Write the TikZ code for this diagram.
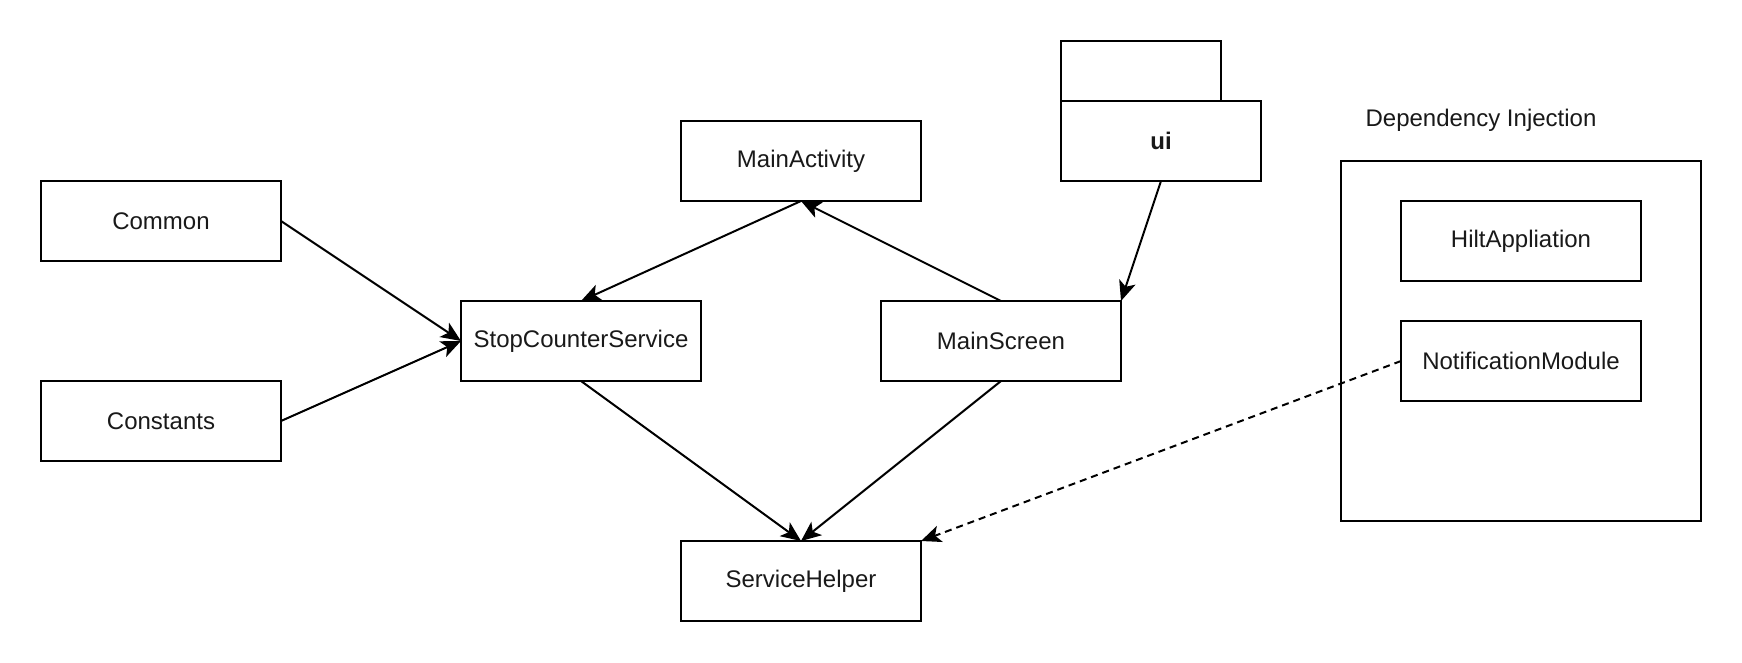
\documentclass[tikz,border=0pt]{standalone}
\usepackage{fontspec}
\setmainfont{Liberation Sans}
\usetikzlibrary{arrows.meta}
\begin{document}
\begin{tikzpicture}[x=1pt,y=-1pt,
  box/.style={draw=black, line width=2pt, fill=white, rectangle, minimum width=240pt, minimum height=80pt, inner sep=0pt, outer sep=0pt, font=\fontsize{24}{28}\selectfont, text=black!90},
  arr/.style={draw=black, line width=2pt, -{Stealth[length=20pt 0, width=17pt 0, inset=5pt 0]}},
  dsh/.style={dash pattern=on 7pt off 5pt}]
\useasboundingbox[fill=white] (0,0) rectangle (1742,662);
% package ui
\draw[line width=2pt] (1061,41) rectangle (1221,101);
\node[box, minimum width=200pt, font=\fontsize{24}{28}\selectfont\bfseries] (ui) at (1161,141) {ui};
% container
\node[draw=black, line width=2pt, minimum width=360pt, minimum height=360pt, outer sep=0pt, inner sep=0pt] (di) at (1521,341) {};
\node[font=\fontsize{24}{28}\selectfont, text=black!90] (dilabel) at (1481,120) {Dependency Injection};
\node[box] (common) at (161,221) {Common};
\node[box] (constants) at (161,421) {Constants};
\node[box] (scs) at (581,341) {StopCounterService};
\node[box] (mainactivity) at (801,161) {MainActivity};
\node[box] (mainscreen) at (1001,341) {MainScreen};
\node[box] (servicehelper) at (801,581) {ServiceHelper};
\node[box] (hilt) at (1521,241) {HiltAppliation};
\node[box] (notif) at (1521,361) {NotificationModule};
% connectors
\draw[arr] (common.east) -- (scs.west);
\draw[arr] (constants.east) -- (scs.west);
\draw[arr] (mainactivity.south) -- (scs.north);
\draw[arr] (mainscreen.north) -- (mainactivity.south);
\draw[arr] (ui.south) -- (mainscreen.north east);
\draw[arr] (scs.south) -- (servicehelper.north);
\draw[arr] (mainscreen.south) -- (servicehelper.north);
\draw[arr, dsh] (notif.west) -- (servicehelper.north east);
\end{tikzpicture}
\end{document}
